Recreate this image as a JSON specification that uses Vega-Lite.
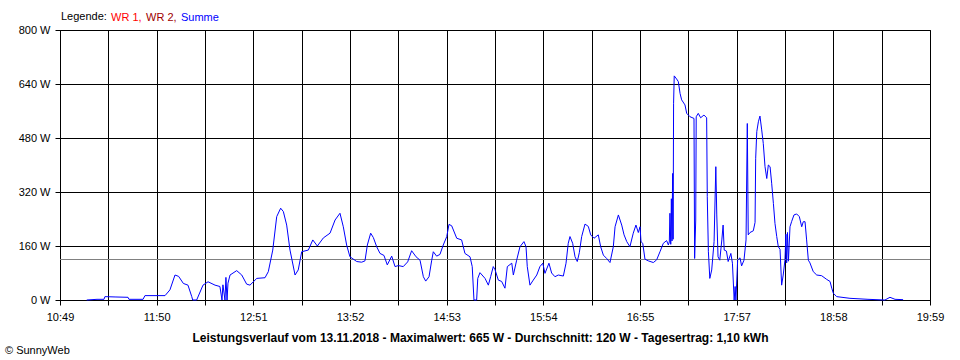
{
  "$schema": "https://vega.github.io/schema/vega-lite/v6.json",
  "width": 870,
  "height": 270,
  "autosize": "none",
  "padding": {"left": 60, "top": 30, "right": 30, "bottom": 60},
  "background": "white",
  "config": {
    "font": "Liberation Sans",
    "view": {"stroke": "black", "strokeWidth": 1}
  },
  "title": {
    "text": "© SunnyWeb",
    "orient": "bottom",
    "anchor": "start",
    "frame": "group",
    "dx": -55,
    "offset": 2,
    "fontSize": 11,
    "fontWeight": "normal",
    "font": "Liberation Sans",
    "color": "black"
  },
  "data": {
    "values": [
      {"t":665.9,"w":0},{"t":672.4,"w":2},{"t":676.8,"w":2},{"t":677.4,"w":10},{"t":683.8,"w":9},{"t":692.0,"w":8},{"t":692.6,"w":2},{"t":701.5,"w":2},{"t":702.7,"w":13},{"t":715.4,"w":13},{"t":718.5,"w":30},{"t":721.7,"w":74},{"t":724.0,"w":70},{"t":727.0,"w":49},{"t":729.9,"w":44},{"t":732.3,"w":10},{"t":732.9,"w":0},{"t":735.4,"w":0},{"t":739.4,"w":44},{"t":742.6,"w":54},{"t":747.0,"w":44},{"t":750.1,"w":40},{"t":751.4,"w":0},{"t":752.0,"w":45},{"t":753.3,"w":0},{"t":753.9,"w":67},{"t":754.6,"w":0},{"t":755.2,"w":50},{"t":756.5,"w":74},{"t":760.7,"w":87},{"t":763.9,"w":74},{"t":767.0,"w":47},{"t":769.1,"w":44},{"t":773.4,"w":64},{"t":778.6,"w":66},{"t":780.7,"w":84},{"t":783.5,"w":148},{"t":786.0,"w":247},{"t":788.5,"w":272},{"t":790.2,"w":262},{"t":792.3,"w":222},{"t":794.4,"w":148},{"t":797.6,"w":74},{"t":799.6,"w":89},{"t":801.8,"w":143},{"t":806.0,"w":148},{"t":808.8,"w":178},{"t":811.7,"w":160},{"t":815.5,"w":184},{"t":819.7,"w":198},{"t":822.9,"w":237},{"t":826.0,"w":257},{"t":828.1,"w":217},{"t":830.2,"w":163},{"t":832.3,"w":128},{"t":836.6,"w":114},{"t":839.7,"w":112},{"t":841.8,"w":116},{"t":843.3,"w":163},{"t":845.4,"w":198},{"t":847.1,"w":185},{"t":849.2,"w":158},{"t":851.3,"w":138},{"t":853.8,"w":132},{"t":855.9,"w":104},{"t":858.7,"w":130},{"t":860.8,"w":99},{"t":862.9,"w":102},{"t":866.0,"w":99},{"t":868.8,"w":113},{"t":871.3,"w":146},{"t":874.1,"w":128},{"t":876.6,"w":118},{"t":878.7,"w":69},{"t":880.2,"w":56},{"t":882.3,"w":69},{"t":884.0,"w":118},{"t":885.0,"w":143},{"t":887.1,"w":130},{"t":889.2,"w":135},{"t":891.3,"w":163},{"t":893.5,"w":188},{"t":894.9,"w":224},{"t":896.6,"w":220},{"t":899.8,"w":183},{"t":902.9,"w":178},{"t":905.0,"w":138},{"t":908.2,"w":128},{"t":909.6,"w":99},{"t":910.7,"w":0},{"t":912.4,"w":0},{"t":913.1,"w":64},{"t":914.5,"w":81},{"t":917.7,"w":64},{"t":919.8,"w":44},{"t":921.3,"w":70},{"t":922.9,"w":99},{"t":924.0,"w":90},{"t":926.1,"w":59},{"t":928.2,"w":55},{"t":930.3,"w":35},{"t":931.8,"w":99},{"t":934.6,"w":109},{"t":935.6,"w":74},{"t":937.7,"w":118},{"t":939.8,"w":158},{"t":942.3,"w":173},{"t":943.6,"w":158},{"t":944.4,"w":99},{"t":946.1,"w":44},{"t":948.2,"w":59},{"t":950.4,"w":74},{"t":952.4,"w":99},{"t":954.2,"w":109},{"t":955.6,"w":79},{"t":958.1,"w":109},{"t":959.8,"w":80},{"t":961.9,"w":69},{"t":964.0,"w":74},{"t":967.2,"w":71},{"t":968.9,"w":109},{"t":970.3,"w":168},{"t":971.4,"w":188},{"t":973.1,"w":168},{"t":974.6,"w":128},{"t":976.0,"w":114},{"t":977.3,"w":140},{"t":978.8,"w":188},{"t":980.9,"w":225},{"t":983.0,"w":218},{"t":984.5,"w":193},{"t":986.6,"w":183},{"t":989.3,"w":193},{"t":990.8,"w":158},{"t":992.5,"w":133},{"t":994.6,"w":123},{"t":996.7,"w":111},{"t":998.8,"w":158},{"t":999.9,"w":217},{"t":1002.0,"w":252},{"t":1004.1,"w":222},{"t":1005.6,"w":193},{"t":1007.3,"w":173},{"t":1009.3,"w":158},{"t":1011.4,"w":198},{"t":1013.1,"w":222},{"t":1014.6,"w":200},{"t":1015.7,"w":217},{"t":1016.3,"w":173},{"t":1017.4,"w":168},{"t":1018.8,"w":121},{"t":1020.9,"w":116},{"t":1024.1,"w":111},{"t":1026.2,"w":119},{"t":1028.3,"w":143},{"t":1030.4,"w":168},{"t":1032.5,"w":176},{"t":1033.6,"w":163},{"t":1034.2,"w":172},{"t":1034.6,"w":257},{"t":1035.1,"w":165},{"t":1035.5,"w":300},{"t":1035.9,"w":175},{"t":1036.3,"w":375},{"t":1036.6,"w":180},{"t":1036.9,"w":583},{"t":1037.3,"w":664},{"t":1038.8,"w":655},{"t":1039.9,"w":647},{"t":1041.0,"w":612},{"t":1042.0,"w":593},{"t":1044.1,"w":578},{"t":1045.2,"w":553},{"t":1047.3,"w":543},{"t":1049.8,"w":538},{"t":1050.2,"w":123},{"t":1050.9,"w":237},{"t":1051.2,"w":543},{"t":1052.5,"w":553},{"t":1054.0,"w":540},{"t":1056.1,"w":548},{"t":1057.8,"w":540},{"t":1058.2,"w":306},{"t":1058.9,"w":143},{"t":1059.8,"w":64},{"t":1061.0,"w":89},{"t":1062.5,"w":173},{"t":1063.6,"w":395},{"t":1064.2,"w":252},{"t":1065.0,"w":128},{"t":1066.1,"w":118},{"t":1067.4,"w":178},{"t":1068.2,"w":222},{"t":1068.9,"w":148},{"t":1070.3,"w":145},{"t":1071.4,"w":114},{"t":1073.1,"w":138},{"t":1074.1,"w":109},{"t":1075.2,"w":0},{"t":1075.8,"w":40},{"t":1076.3,"w":0},{"t":1077.4,"w":118},{"t":1078.9,"w":125},{"t":1079.9,"w":101},{"t":1081.4,"w":118},{"t":1082.7,"w":178},{"t":1083.5,"w":523},{"t":1084.1,"w":193},{"t":1085.2,"w":200},{"t":1087.3,"w":205},{"t":1088.4,"w":230},{"t":1088.8,"w":420},{"t":1089.5,"w":499},{"t":1090.5,"w":528},{"t":1091.5,"w":545},{"t":1092.6,"w":504},{"t":1093.6,"w":464},{"t":1094.7,"w":395},{"t":1095.8,"w":360},{"t":1096.8,"w":400},{"t":1097.9,"w":395},{"t":1098.9,"w":346},{"t":1100.0,"w":286},{"t":1101.0,"w":227},{"t":1102.1,"w":188},{"t":1103.1,"w":158},{"t":1104.2,"w":150},{"t":1105.2,"w":44},{"t":1106.2,"w":74},{"t":1107.3,"w":118},{"t":1107.9,"w":195},{"t":1108.4,"w":110},{"t":1108.9,"w":200},{"t":1109.5,"w":115},{"t":1110.5,"w":217},{"t":1111.5,"w":232},{"t":1113.0,"w":252},{"t":1114.7,"w":255},{"t":1116.4,"w":247},{"t":1117.9,"w":217},{"t":1118.9,"w":232},{"t":1120.0,"w":232},{"t":1121.0,"w":178},{"t":1122.1,"w":118},{"t":1123.1,"w":110},{"t":1125.2,"w":84},{"t":1127.4,"w":74},{"t":1130.5,"w":72},{"t":1133.7,"w":61},{"t":1135.8,"w":55},{"t":1136.9,"w":35},{"t":1137.9,"w":20},{"t":1140.0,"w":10},{"t":1148.4,"w":5},{"t":1159.8,"w":2},{"t":1170.5,"w":0},{"t":1173.7,"w":8},{"t":1176.9,"w":2},{"t":1182.0,"w":1}
    ]
  },
  "layer": [
    {
      "mark": {"type": "rule", "color": "#808080", "strokeWidth": 1},
      "encoding": {"y": {"datum": 120, "type": "quantitative"}}
    },
    {
      "mark": {"type": "line", "strokeWidth": 1, "interpolate": "linear"},
      "encoding": {
        "x": {
          "field": "t",
          "type": "quantitative",
          "scale": {"domain": [649, 1199], "nice": false, "zero": false},
          "axis": {
            "values": [649, 679.556, 710.111, 740.667, 771.222, 801.778, 832.333, 862.889, 893.444, 924, 954.556, 985.111, 1015.667, 1046.222, 1076.778, 1107.333, 1137.889, 1168.444, 1199],
            "labelExpr": "['10:49','','11:50','','12:51','','13:52','','14:53','','15:54','','16:55','','17:57','','18:58','','19:59'][round((datum.value-649)/30.5556)]",
            "grid": true,
            "gridColor": "black",
            "gridOpacity": 1,
            "gridWidth": 1,
            "domainColor": "black",
            "tickColor": "black",
            "tickSize": 5,
            "labelFontSize": 11,
            "labelColor": "black",
            "labelPadding": 6,
            "labelFlush": false,
            "labelOverlap": false,
            "title": "Leistungsverlauf vom 13.11.2018 - Maximalwert: 665 W - Durchschnitt: 120 W - Tagesertrag: 1,10 kWh",
            "titleFontSize": 12,
            "titleFontWeight": "bold",
            "titleColor": "black",
            "titleX": 420,
            "titleY": 37,
            "titleAlign": "center",
            "titleBaseline": "middle"
          }
        },
        "y": {
          "field": "w",
          "type": "quantitative",
          "scale": {"domain": [0, 800], "nice": false},
          "axis": {
            "values": [0, 160, 320, 480, 640, 800],
            "labelExpr": "datum.value + ' W'",
            "grid": true,
            "gridColor": "black",
            "gridOpacity": 1,
            "gridWidth": 1,
            "domainColor": "black",
            "tickColor": "black",
            "tickSize": 5,
            "labelFontSize": 11,
            "labelColor": "black",
            "labelPadding": 5,
            "labelFlush": false,
            "title": null
          }
        },
        "color": {
          "datum": "Summe",
          "type": "nominal",
          "scale": {"domain": ["WR 1", "WR 2", "Summe"], "range": ["#ff0000", "#a00000", "#0000ff"]},
          "legend": {
            "orient": "none",
            "legendX": 1,
            "legendY": -18,
            "direction": "horizontal",
            "gridAlign": "none",
            "title": "Legende:",
            "titleOrient": "left",
            "titleFontSize": 11,
            "titleFontWeight": "normal",
            "titleColor": "black",
            "titlePadding": 3,
            "labelFontSize": 11,
            "labelOffset": -10,
            "columnPadding": 3,
            "symbolType": "circle",
            "symbolSize": 0.01,
            "symbolStrokeWidth": 0,
            "symbolOpacity": 0,
            "labelExpr": "datum.label == 'Summe' ? 'Summe' : datum.label + ','",
            "encode": {
              "symbols": {"update": {"opacity": {"value": 0}}},
              "labels": {
                "update": {
                  "fill": {"signal": "datum.value === 'WR 1' ? '#ff0000' : datum.value === 'WR 2' ? '#a00000' : '#0000ff'"}
                }
              }
            }
          }
        }
      }
    }
  ]
}
